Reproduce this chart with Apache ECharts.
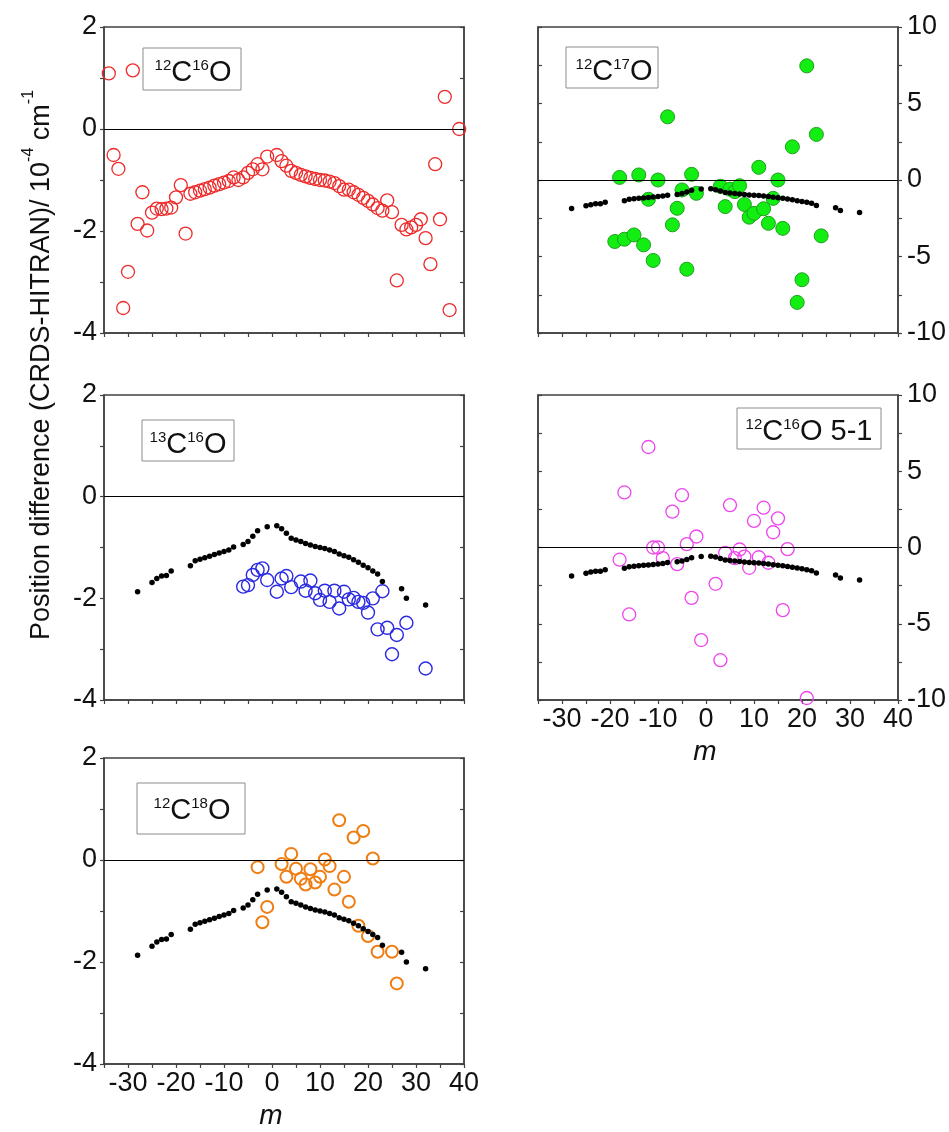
<!DOCTYPE html>
<html>
<head>
<meta charset="utf-8">
<script src="https://cdn.jsdelivr.net/npm/echarts@6/dist/echarts.min.js"></script>
<style>
html,body{margin:0;padding:0;background:#ffffff;}
#chart{width:949px;height:1132px;}
</style>
</head>
<body>
<div id="chart"></div>
<script>
// ---------- DATA ----------
// tick labels
const xTickLabels = [-30, -20, -10, 0, 10, 20, 30, 40];
const yTickLabelsLeft = [-4, -2, 0, 2];
const yTickLabelsRight = [-10, -5, 0, 5, 10];

// reference (black dots) shown in four panels
const mRef = [-28,-25,-24,-23,-22,-21,-17,-16,-15,-14,-13,-12,-11,-10,-9,-8,-6,-5,-4,-3,-1,
  1,2,3,4,5,6,7,8,9,10,11,12,13,14,15,16,17,18,19,20,21,22,23,27,28,32];
const dRef = [-1.87,-1.69,-1.61,-1.56,-1.55,-1.46,-1.36,-1.26,-1.23,-1.20,-1.17,-1.14,-1.11,-1.08,-1.05,-0.99,-0.94,-0.88,-0.78,-0.67,-0.59,
  -0.57,-0.63,-0.72,-0.82,-0.85,-0.88,-0.92,-0.95,-0.98,-1.00,-1.02,-1.05,-1.08,-1.13,-1.16,-1.19,-1.24,-1.29,-1.35,-1.40,-1.46,-1.52,-1.67,-1.81,-2.00,-2.13];

// 12C16O (red open circles)
const m12C16O = [-34,-33,-32,-31,-30,-29,-28,-27,-26,-25,-24,-23,-22,-21,-20,-19,-18,-17,-16,-15,-14,-13,-12,-11,-10,-9,-8,-7,-6,-5,-4,-3,-2,-1,
  1,2,3,4,5,6,7,8,9,10,11,12,13,14,15,16,17,18,19,20,21,22,23,24,25,26,27,28,29,30,31,32,33,34,35,36,37,39];
const d12C16O = [1.09,-0.51,-0.78,-3.51,-2.80,1.15,-1.86,-1.24,-1.99,-1.64,-1.56,-1.57,-1.56,-1.54,-1.34,-1.10,-2.05,-1.27,-1.24,-1.21,-1.18,-1.15,-1.11,-1.08,-1.05,-1.02,-0.95,-1.00,-0.95,-0.86,-0.79,-0.69,-0.79,-0.54,
  -0.51,-0.63,-0.72,-0.82,-0.86,-0.90,-0.93,-0.96,-0.98,-1.00,-1.01,-1.03,-1.06,-1.12,-1.19,-1.19,-1.24,-1.29,-1.35,-1.41,-1.48,-1.55,-1.60,-1.40,-1.63,-2.97,-1.88,-1.97,-1.93,-1.88,-1.77,-2.14,-2.65,-0.69,-1.77,0.63,-3.55,0.00];

// 13C16O (blue open circles)
const m13C16O = [-6,-5,-4,-3,-2,-1,1,2,3,4,6,7,8,9,10,11,12,13,14,15,16,17,18,19,20,21,22,23,24,25,26,28,32];
const d13C16O = [-1.77,-1.74,-1.54,-1.44,-1.41,-1.64,-1.87,-1.61,-1.56,-1.78,-1.67,-1.85,-1.65,-1.90,-2.03,-1.85,-2.07,-1.85,-2.20,-1.87,-2.02,-1.99,-2.07,-2.09,-2.28,-2.00,-2.61,-1.86,-2.58,-3.10,-2.72,-2.48,-3.38];

// 12C18O (orange open circles)
const m12C18O = [-3,-2,-1,2,3,4,5,6,7,8,9,10,11,12,13,14,15,16,17,18,19,20,21,22,25,26];
const d12C18O = [-0.14,-1.22,-0.92,-0.08,-0.33,0.12,-0.17,-0.37,-0.48,-0.18,-0.44,-0.33,0.01,-0.12,-0.58,0.78,-0.33,-0.82,0.44,-1.29,0.57,-1.49,0.03,-1.80,-1.80,-2.42];

// 12C17O (green filled circles)
const m12C17O = [-19,-18,-17,-15,-14,-13,-12,-11,-10,-8,-7,-6,-5,-4,-3,-2,3,4,5,6,7,8,9,10,11,12,13,14,15,16,18,19,20,21,23,24];
const d12C17O = [-4.02,0.17,-3.87,-3.59,0.33,-4.24,-1.26,-5.26,0.00,4.13,-2.93,-1.85,-0.65,-5.83,0.37,-0.87,-0.41,-1.74,-0.60,-0.76,-0.37,-1.60,-2.43,-2.18,0.83,-1.88,-2.83,-1.20,0.00,-3.16,2.17,-8.00,-6.52,7.46,2.98,-3.65];

// 12C16O 5-1 (magenta open circles)
const m5_1 = [-18,-17,-16,-12,-11,-10,-9,-7,-6,-5,-4,-3,-2,-1,2,3,4,5,6,7,8,9,10,11,12,13,14,15,16,17,21];
const d5_1 = [-0.80,3.61,-4.39,6.59,0.00,0.00,-0.70,2.35,-1.09,3.43,0.22,-3.30,0.72,-6.07,-2.38,-7.39,-0.35,2.78,-0.70,-0.13,-0.60,-1.33,1.74,-0.64,2.61,-1.00,1.00,1.91,-4.11,-0.11,-9.87];

// panel labels (rich text markup: s = superscript, a = normal)
const panelLabels = ['{s|12}{a|C}{s|16}{a|O}', '{s|13}{a|C}{s|16}{a|O}', '{s|12}{a|C}{s|18}{a|O}', '{s|12}{a|C}{s|17}{a|O}', '{s|12}{a|C}{s|16}{a|O 5-1}'];
const yTitle = '{a|Position difference (CRDS-HITRAN)/ 10}{s|-4}{a| cm}{s|-1}';
const xName = 'm';

// ---------- CHART ----------
const FONT = '"Liberation Sans", Arial, Helvetica, sans-serif';
const AX = '#404040';
const TXT = '#111111';
const pair = (ms, ds) => ms.map((m, i) => [m, ds[i]]);

const grids = [
  {left:104, top:27,  width:360, height:306},
  {left:104, top:395, width:360, height:305},
  {left:104, top:758, width:360, height:306},
  {left:538, top:27,  width:360, height:306},
  {left:538, top:395, width:360, height:305}
];

function xAx(i, showLabel) {
  return {
    type:'value', gridIndex:i, min:-35, max:40, interval:5,
    axisLine:{show:true, onZero:false, lineStyle:{color:AX, width:1.5}},
    axisTick:{show:true, inside:false, length:4, lineStyle:{color:AX, width:1.2}},
    axisLabel:{show:showLabel, margin:6, fontSize:27, fontFamily:FONT, color:TXT,
      formatter: v => xTickLabels.indexOf(Math.round(v)) >= 0 && Math.abs(v - Math.round(v)) < 1e-6 ? String(Math.round(v)) : ''},
    splitLine:{show:false},
    name: showLabel ? xName : '', nameLocation:'middle', nameGap:38,
    nameTextStyle:{fontSize:28, fontStyle:'italic', fontFamily:FONT, color:TXT, padding:[0,26,0,0]}
  };
}
function yAx(i, pos, left, show) {
  const labels = left ? yTickLabelsLeft : yTickLabelsRight;
  return {
    type:'value', gridIndex:i, position:pos,
    min: labels[0], max: labels[labels.length-1], interval: labels[1]-labels[0],
    axisLine:{show:true, onZero:false, lineStyle:{color:AX, width:1.5}},
    axisTick:{show:true, inside:!show, length:4, lineStyle:{color:AX, width:1.2}},
    minorTick:{show:true, splitNumber:2, length:4, lineStyle:{color:AX, width:1.2}},
    axisLabel:{show:show, margin: pos === 'left' ? 7 : 9, fontSize:27, fontFamily:FONT, color:TXT},
    splitLine:{show:false}, minorSplitLine:{show:false}
  };
}

const xAxes = [xAx(0,false), xAx(1,false), xAx(2,true), xAx(3,false), xAx(4,true)];
const yAxes = [
  yAx(0,'left',true,true),  yAx(0,'right',true,false),
  yAx(1,'left',true,true),  yAx(1,'right',true,false),
  yAx(2,'left',true,true),  yAx(2,'right',true,false),
  yAx(3,'right',false,true), yAx(3,'left',false,false),
  yAx(4,'right',false,true), yAx(4,'left',false,false)
];

const zeroLine = {silent:true, symbol:'none', animation:false, label:{show:false},
  lineStyle:{color:'#000', width:1.2, type:'solid'}, data:[{yAxis:0}]};

function open(name, gi, data, color, size, bw) {
  return {name, type:'scatter', xAxisIndex:gi, yAxisIndex:gi*2, data, symbol:'circle', symbolSize:size,
    itemStyle:{color:'rgba(0,0,0,0)', borderColor:color, borderWidth:bw, opacity:1},
    markLine: zeroLine, z:3, clip:false};
}
function ref(gi) {
  return {name:'ref'+gi, type:'scatter', xAxisIndex:gi, yAxisIndex:gi*2, data:pair(mRef, dRef),
    symbol:'circle', symbolSize:5.5, itemStyle:{color:'#000', opacity:1}, z:4};
}

const series = [
  open('12C16O', 0, pair(m12C16O, d12C16O), '#ee2a2a', 13, 1.3),
  open('13C16O', 1, pair(m13C16O, d13C16O), '#2a2ae0', 13, 1.4),
  ref(1),
  open('12C18O', 2, pair(m12C18O, d12C18O), '#f07d12', 12, 2),
  ref(2),
  {name:'12C17O', type:'scatter', xAxisIndex:3, yAxisIndex:6, data:pair(m12C17O, d12C17O), symbol:'circle', symbolSize:14,
    itemStyle:{color:'#12ee12', borderColor:'#1f9e1f', borderWidth:1, opacity:1}, markLine:zeroLine, z:3},
  ref(3),
  open('12C16O 5-1', 4, pair(m5_1, d5_1), '#ee44ee', 13, 1.3),
  ref(4)
];

// label boxes: [x, y, w, h, textCenterX, textCenterY]
const boxes = [
  [143, 48, 98, 42, 193, 73],
  [142, 420, 92, 41, 188, 445],
  [137, 783, 108, 51, 192, 811],
  [566, 47, 92, 41, 614, 72],
  [737, 408, 144, 41, 809, 432]
];
const rich = {
  a:{fontSize:29, fontFamily:FONT, fill:TXT, lineHeight:29, verticalAlign:'bottom'},
  s:{fontSize:15, fontFamily:FONT, fill:TXT, lineHeight:15, verticalAlign:'top'}
};
const graphic = [];
boxes.forEach((b, i) => {
  graphic.push({type:'rect', z:50, shape:{x:b[0], y:b[1], width:b[2], height:b[3]},
    style:{fill:'#ffffff', stroke:'#8c8c8c', lineWidth:1}});
  graphic.push({type:'text', z:51, x:b[4], y:b[5],
    style:{text:panelLabels[i], align:'center', verticalAlign:'middle', rich:rich}});
});
graphic.push({type:'text', z:51, x:38, y:365, rotation:Math.PI/2,
  style:{text:yTitle, align:'center', verticalAlign:'middle',
    rich:{a:{fontSize:27, fontFamily:FONT, fill:TXT, lineHeight:34, verticalAlign:'bottom'},
          s:{fontSize:16, fontFamily:FONT, fill:TXT, lineHeight:16, verticalAlign:'top'}}}});

const chart = echarts.init(document.getElementById('chart'), null, {renderer:'canvas', width:949, height:1132});
chart.setOption({
  animation:false,
  backgroundColor:'#ffffff',
  grid: grids.map(g => Object.assign({show:true, borderColor:AX, borderWidth:1.5, backgroundColor:'rgba(0,0,0,0)', containLabel:false}, g)),
  xAxis: xAxes,
  yAxis: yAxes,
  series: series,
  graphic: graphic
});
</script>
</body>
</html>
